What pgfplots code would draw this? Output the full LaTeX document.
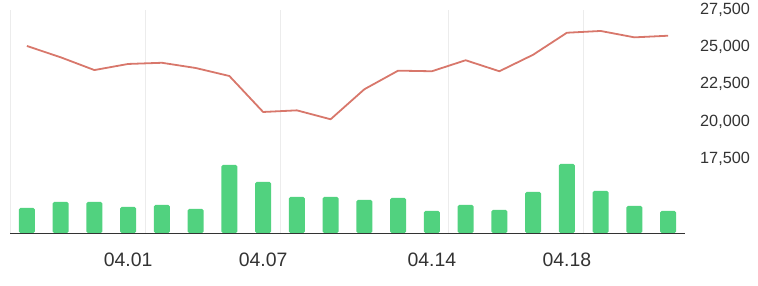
\documentclass[border=0pt]{standalone}
\usepackage{pgfplots}
\pgfplotsset{compat=1.18}
\usepackage{fontspec}
\setmainfont{Liberation Sans}
\definecolor{priceline}{HTML}{D8776B}
\definecolor{volbar}{HTML}{51D27F}
\definecolor{gridgray}{HTML}{ECECEC}
\definecolor{labelgray}{HTML}{333333}

% daily volume (relative units)
\pgfplotstableread{
x vol
0 25
1 31
2 31
3 26
4 28
5 24
6 68
7 51
8 36
9 36
10 33
11 35
12 22
13 28
14 23
15 41
16 69
17 42
18 27
19 22
}\voldata

% daily closing price
\pgfplotstableread{
x price
0 25080
1 24320
2 23460
3 23870
4 23950
5 23600
6 23060
7 20640
8 20750
9 20150
10 22170
11 23420
12 23380
13 24120
14 23380
15 24490
16 25970
17 26090
18 25660
19 25770
}\pricedata

\begin{document}
\begin{tikzpicture}
\path[use as bounding box] (-10bp,-53bp) rectangle (748bp,233bp);

% volume bars and vertical grid
\begin{axis}[
  at={(0,0)}, anchor=south west,
  scale only axis, width=675bp, height=223bp,
  xmin=-0.5, xmax=19.5, ymin=0, ymax=223,
  axis line style={draw=none},
  major tick length=0,
  xtick={-0.5,3.5,7.5,12.5,16.5},
  xticklabels={},
  ytick=\empty,
  xmajorgrids=true,
  grid style={draw=gridgray, line width=0.8bp},
]
\addplot[ybar, bar width=16bp, fill=volbar, draw=none, rounded corners=1.5bp] table[x=x, y=vol] {\voldata};
\end{axis}

% price line, date labels and price scale
\begin{axis}[
  at={(0,0)}, anchor=south west,
  scale only axis, width=675bp, height=223bp,
  xmin=-0.5, xmax=19.5, ymin=12500, ymax=27500,
  axis x line*=bottom, axis y line*=right,
  x axis line style={draw=labelgray, line width=1bp, -},
  y axis line style={draw=none},
  major tick length=0,
  xtick={3,7,12,16},
  xticklabels={04.01,04.07,04.14,04.18},
  xticklabel style={font=\fontsize{19.5}{22}\selectfont, text=labelgray, anchor=base, inner sep=0pt, yshift=-33bp},
  ytick={17500,20000,22500,25000,27500},
  yticklabel style={font=\fontsize{16.3}{19}\selectfont, text=labelgray, anchor=west, inner sep=0pt, xshift=15bp},
  /pgf/number format/assume math mode=true,
  /pgf/number format/1000 sep={,},
  scaled y ticks=false,
]
\addplot[priceline, line width=1.8bp, mark=none, line join=round] table[x=x, y=price] {\pricedata};
\end{axis}
\end{tikzpicture}
\end{document}
